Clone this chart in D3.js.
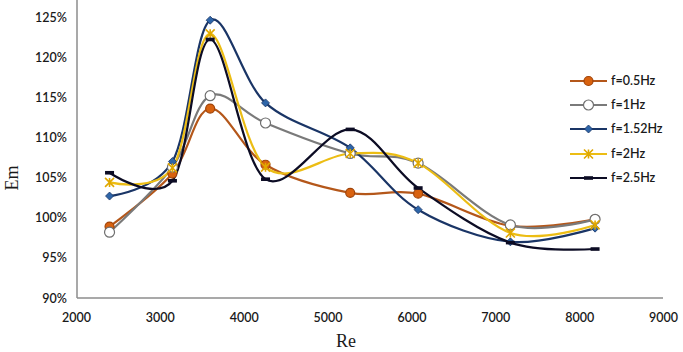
<!DOCTYPE html>
<html><head><meta charset="utf-8">
<script src="https://cdn.jsdelivr.net/npm/d3@7"></script>
<style>body{margin:0;background:#fff}svg{display:block}</style>
</head><body>
<svg id="c" width="683" height="352"></svg>
<script>
const re = [2400, 3150, 3600, 4260, 5270, 6080, 7180, 8190];
const f05  = [0.989, 1.055, 1.136, 1.066, 1.031, 1.030, 0.990, 0.998];
const f1   = [0.982, 1.063, 1.152, 1.118, 1.080, 1.068, 0.991, 0.998];
const f152 = [1.027, 1.070, 1.246, 1.143, 1.087, 1.010, 0.970, 0.987];
const f2   = [1.044, 1.062, 1.229, 1.063, 1.080, 1.068, 0.981, 0.991];
const f25  = [1.056, 1.046, 1.222, 1.048, 1.110, 1.037, 0.969, 0.961];
const seriesNames = ["f=0.5Hz", "f=1Hz", "f=1.52Hz", "f=2Hz", "f=2.5Hz"];
const xTicks = [2000, 3000, 4000, 5000, 6000, 7000, 8000, 9000];
const yTicks = [0.90, 0.95, 1.00, 1.05, 1.10, 1.15, 1.20, 1.25];

const series = [
  {name: seriesNames[0], vals: f05,  line: "#b4571a", fill: "#d9620f", stroke: "#a0440a", marker: "circle"},
  {name: seriesNames[1], vals: f1,   line: "#7a7a7a", fill: "#ffffff", stroke: "#6f6f6f", marker: "circle"},
  {name: seriesNames[2], vals: f152, line: "#1a3566", fill: "#2e65a8", stroke: "#1a3566", marker: "diamond"},
  {name: seriesNames[3], vals: f2,   line: "#ecbd14", fill: "#ecbd14", stroke: "#e0a800", marker: "star"},
  {name: seriesNames[4], vals: f25,  line: "#0c0c24", fill: "#0c0c24", stroke: "#0c0c24", marker: "dash"}
];

const svg = d3.select("#c");
const x = d3.scaleLinear().domain([2000, 9000]).range([76, 663]);
const y = d3.scaleLinear().domain([0.90, 1.25]).range([298, 17]);

// axis lines
svg.append("line").attr("x1", 77).attr("x2", 77).attr("y1", 0).attr("y2", y(0.90))
  .attr("stroke", "#8c8c8c").attr("stroke-width", 1.5);
svg.append("line").attr("x1", 77).attr("x2", 663).attr("y1", y(0.90)).attr("y2", y(0.90))
  .attr("stroke", "#8c8c8c").attr("stroke-width", 1.5);

const yAxis = svg.append("g").attr("transform", "translate(67,0)")
  .call(d3.axisLeft(y).tickValues(yTicks).tickSize(0).tickPadding(0).tickFormat(d3.format(".0%")));
yAxis.select(".domain").remove();
yAxis.selectAll("text").attr("font-family", "Lato, 'Open Sans', sans-serif").attr("font-size", 12.5)
  .attr("font-weight", 600).attr("fill", "#1a1a1a");

const xAxis = svg.append("g").attr("transform", "translate(0,313)")
  .call(d3.axisBottom(x).tickValues(xTicks).tickSize(0).tickPadding(0).tickFormat(d3.format("d")));
xAxis.select(".domain").remove();
xAxis.selectAll("text").attr("font-family", "Lato, 'Open Sans', sans-serif").attr("font-size", 12.5)
  .attr("font-weight", 600).attr("fill", "#1a1a1a");

svg.append("text").attr("x", 346).attr("y", 347).attr("text-anchor", "middle")
  .attr("font-family", "'Liberation Serif', serif").attr("font-size", 18).attr("fill", "#1a1a1a").text("Re");
svg.append("text").attr("transform", "translate(18,178) rotate(-90)").attr("text-anchor", "middle")
  .attr("font-family", "'Liberation Serif', serif").attr("font-size", 18).attr("fill", "#1a1a1a").text("Em");

const lineGen = d3.line().x(d => x(d[0])).y(d => y(d[1])).curve(d3.curveCardinal.tension(0));

function drawMarker(g, s, cx, cy) {
  if (s.marker === "circle") {
    g.append("circle").attr("cx", cx).attr("cy", cy).attr("r", s.name === "f=1Hz" ? 5 : 4.5)
      .attr("fill", s.fill).attr("stroke", s.stroke).attr("stroke-width", 1.2);
  } else if (s.marker === "diamond") {
    const r = 4;
    g.append("path").attr("transform", `translate(${cx},${cy})`)
      .attr("d", `M0,${-r}L${r},0L0,${r}L${-r},0Z`).attr("fill", s.fill).attr("stroke", s.stroke).attr("stroke-width", 0.8);
  } else if (s.marker === "star") {
    const r = 4.5;
    g.append("path").attr("transform", `translate(${cx},${cy})`)
      .attr("d", `M${-r},${-r}L${r},${r}M${-r},${r}L${r},${-r}M0,${-r}L0,${r}`)
      .attr("stroke", s.stroke).attr("stroke-width", 1.6).attr("fill", "none");
  } else if (s.marker === "dash") {
    g.append("rect").attr("x", cx - 4.5).attr("y", cy - 1.8).attr("width", 9).attr("height", 3.6).attr("fill", s.fill);
  }
}

const plot = svg.append("g");
series.forEach(s => {
  const pts = re.map((r, i) => [r, s.vals[i]]);
  plot.append("path").attr("d", lineGen(pts)).attr("fill", "none")
    .attr("stroke", s.line).attr("stroke-width", 2.2);
});
series.forEach(s => {
  const g = plot.append("g");
  re.forEach((r, i) => drawMarker(g, s, x(r), y(s.vals[i])));
});

// legend
const legY = [81, 105, 129, 154, 178];
const leg = svg.append("g");
series.forEach((s, i) => {
  const ly = legY[i];
  leg.append("line").attr("x1", 570).attr("x2", 607).attr("y1", ly).attr("y2", ly)
    .attr("stroke", s.line).attr("stroke-width", 2.2);
  drawMarker(leg, s, 588.5, ly);
  leg.append("text").attr("x", 611).attr("y", ly).attr("dy", "0.35em")
    .attr("font-family", "Lato, 'Open Sans', sans-serif").attr("font-size", 12.5).attr("font-weight", 600)
    .attr("fill", "#1a1a1a").text(s.name);
});
</script>
</body></html>
